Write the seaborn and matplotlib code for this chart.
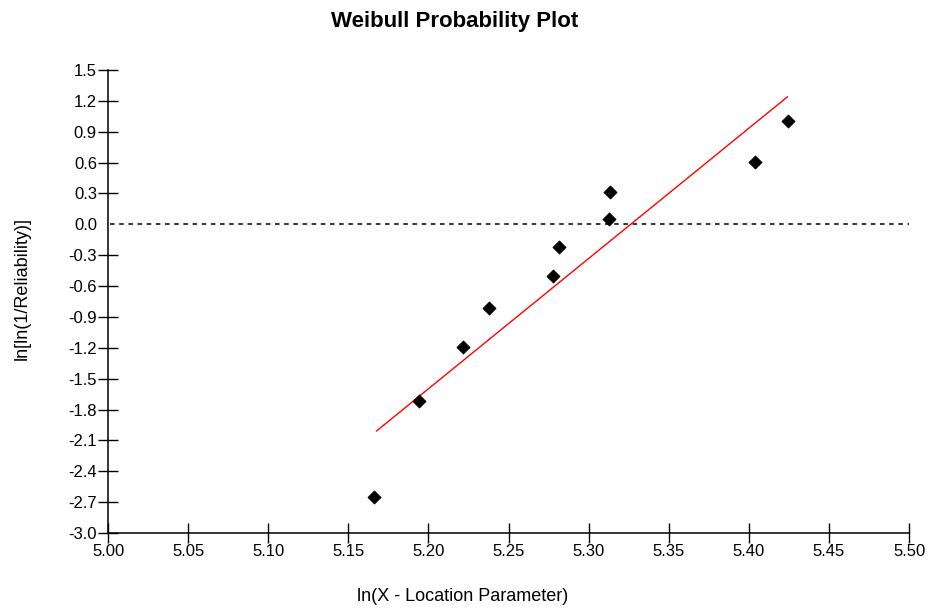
import numpy as np
import pandas as pd
import matplotlib
matplotlib.use("Agg")
import matplotlib.pyplot as plt
import seaborn as sns

# data
ln_x = [5.166, 5.194, 5.2216, 5.2378, 5.2778, 5.2815, 5.3127, 5.3134, 5.4039, 5.4245]
ln_ln_rel = [-2.65, -1.715, -1.19, -0.815, -0.50, -0.22, 0.05, 0.31, 0.605, 1.00]

# fitted line end points
fit_x = [5.1675, 5.4242]
fit_y = [-2.01, 1.24]

x_ticks = np.round(np.arange(5.00, 5.501, 0.05), 2)
y_ticks = np.round(np.arange(-3.0, 1.51, 0.3), 1) + 0.0


def main():
    sns.set_style("ticks")
    plt.rcParams["font.family"] = ["Liberation Sans", "DejaVu Sans"]
    plt.rcParams["text.color"] = "black"
    plt.rcParams["axes.labelcolor"] = "black"
    plt.rcParams["xtick.color"] = "black"
    plt.rcParams["ytick.color"] = "black"

    points = pd.DataFrame({"x": ln_x, "y": ln_ln_rel})
    fit = pd.DataFrame({"x": fit_x, "y": fit_y})

    fig = plt.figure(figsize=(9.33, 6.08), dpi=100)
    ax = fig.add_axes([0.1158, 0.1234, 0.8585, 0.7615])

    ax.axhline(0, color="black", lw=1.1, ls=(0, (3, 3)), xmin=0.003)
    sns.lineplot(data=fit, x="x", y="y", color="red", lw=1.0, ax=ax)
    sns.scatterplot(data=points, x="x", y="y", marker="D", s=42,
                    color="black", edgecolor="black", linewidth=0.8, ax=ax, zorder=3)

    ax.set_xlim(5.00, 5.50)
    ax.set_ylim(-3.0, 1.5)
    ax.set_xticks(x_ticks)
    ax.set_xticklabels([f"{v:.2f}" for v in x_ticks])
    ax.set_yticks(y_ticks)
    ax.set_yticklabels([f"{abs(v) if v == 0 else v:.1f}" for v in y_ticks])
    ax.tick_params(axis="both", direction="inout", length=14, width=1.0,
                   labelsize=12, pad=1, color="black")

    # no tick mark at the zero line
    for t, v in zip(ax.yaxis.get_major_ticks(), y_ticks):
        if v == 0.0:
            t.tick1line.set_visible(False)

    sns.despine(ax=ax)
    for side in ["left", "bottom"]:
        ax.spines[side].set_linewidth(1.1)
        ax.spines[side].set_color("black")

    ax.set_xlabel("ln(X - Location Parameter)", fontsize=13)
    ax.set_ylabel("ln[ln(1/Reliability)]", fontsize=13)
    ax.xaxis.set_label_coords(0.443, -0.138)
    ax.yaxis.set_label_coords(-0.107, 0.529)
    ax.xaxis.label.set_va("center")
    ax.yaxis.label.set_va("center")

    fig.text(455 / 933, 1 - 22 / 608, "Weibull Probability Plot",
             ha="center", va="center", fontsize=16, fontweight="bold")

    fig.savefig("out.png", dpi=100, facecolor="white")


if __name__ == "__main__":
    main()
